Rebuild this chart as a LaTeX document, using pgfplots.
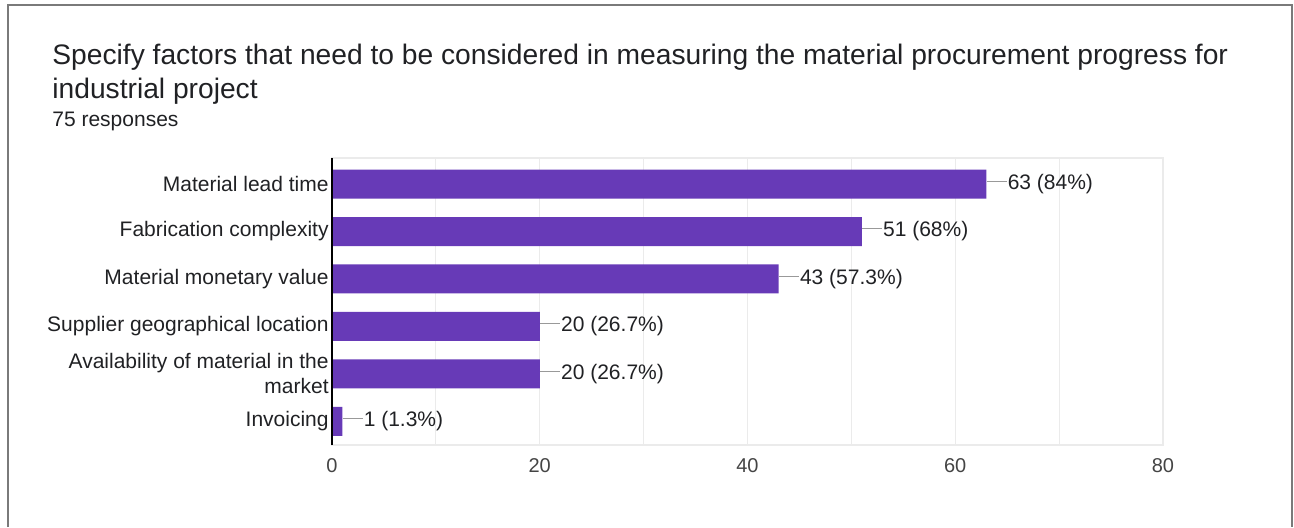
\documentclass[border=0pt]{standalone}
\usepackage{pgfplots}
\pgfplotsset{compat=1.18}
\usepackage{pgfplotstable}
\usepackage{fontspec}
\setmainfont{Liberation Sans}
\definecolor{barcol}{HTML}{673AB7}
\definecolor{gridcol}{HTML}{EBEBEB}
\definecolor{txtcol}{HTML}{202124}
\definecolor{tickcol}{HTML}{444444}
\definecolor{leadcol}{HTML}{999999}
\definecolor{framecol}{HTML}{7A7A7A}
\pgfplotstableread{
y x label
0 63 {63 (84\%)}
1 51 {51 (68\%)}
2 43 {43 (57.3\%)}
3 20 {20 (26.7\%)}
4 20 {20 (26.7\%)}
5 1 {1 (1.3\%)}
}\datatable
\begin{document}
\begin{tikzpicture}[x=0.5pt,y=-0.5pt]
\useasboundingbox (0,0) rectangle (1294,527);
\draw[framecol, line width=1pt] (8,527) -- (8,5) -- (1292,5) -- (1292,527);
\node[anchor=base west, inner sep=0, text=txtcol, font=\fontsize{14.1pt}{17pt}\selectfont] at (52,64) {Specify factors that need to be considered in measuring the material procurement progress for};
\node[anchor=base west, inner sep=0, text=txtcol, font=\fontsize{14.1pt}{17pt}\selectfont] at (52,98) {industrial project};
\node[anchor=base west, inner sep=0, text=txtcol, font=\fontsize{10.5pt}{12pt}\selectfont] at (52,126) {75 responses};
\begin{axis}[
  at={(166pt,-222.5pt)}, anchor=south west,
  width=415.5pt, height=143.5pt, scale only axis,
  xbar, bar width=14.5pt,
  xmin=0, xmax=80, ymin=-0.55, ymax=5.5,
  y dir=reverse,
  xtick={0,20,40,60,80}, minor xtick={10,30,50,70},
  ytick={0,1,2,3,4,5},
  yticklabels={{Material lead time},{Fabrication complexity},{Material monetary value},{Supplier geographical location},{Availability of material in the\\market},{Invoicing}},
  yticklabel style={align=right, font=\fontsize{10.5pt}{12.5pt}\selectfont, text=txtcol, inner sep=1.5pt},
  xticklabel style={font=\fontsize{10pt}{12pt}\selectfont, text=tickcol, yshift=-3pt},
  /pgf/number format/assume math mode=true,
  major tick length=0pt, minor tick length=0pt,
  xmajorgrids, xminorgrids,
  major grid style={gridcol, line width=0.6pt},
  minor grid style={gridcol, line width=0.6pt},
  axis line style={gridcol, line width=0.6pt},
  point meta=explicit symbolic,
  nodes near coords={\textcolor{leadcol}{\rule[0.36em]{10pt}{0.6pt}}\hspace{0.5pt}\pgfplotspointmeta},
  every node near coord/.append style={anchor=west, inner sep=0pt, font=\fontsize{10.5pt}{12.5pt}\selectfont, text=txtcol},
  clip=false,
]
\addplot[fill=barcol, draw=none] table[x=x, y=y, meta=label] {\datatable};
\draw[black, line width=0.8pt] (axis cs:0,-0.55) -- (axis cs:0,5.5);
\end{axis}
\end{tikzpicture}
\end{document}
